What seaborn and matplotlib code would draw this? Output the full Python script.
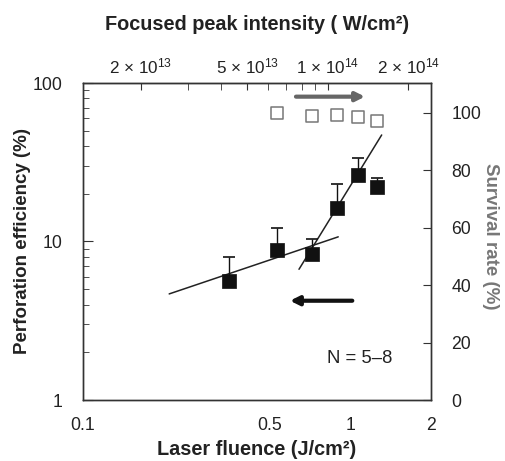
import numpy as np
import pandas as pd
import matplotlib
matplotlib.use("Agg")
import matplotlib.pyplot as plt
import seaborn as sns
from matplotlib.ticker import FixedLocator, FixedFormatter, NullFormatter

# ---- data ----
fluence = [0.351, 0.530, 0.716, 0.887, 1.064, 1.253]          # J/cm^2
perforation = [5.6, 8.8, 8.3, 16.3, 26.3, 22.2]               # %
perf_err_up = [2.4, 3.3, 2.1, 6.6, 7.5, 3.1]                  # % (upper error only)
surv_fluence = [0.530, 0.716, 0.887, 1.064, 1.253]
survival = [100.0, 98.8, 99.2, 98.6, 97.0]                    # %
fit1_x = [0.21, 0.90]
fit1_y = [4.67, 10.7]
fit2_x = [0.642, 1.308]
fit2_y = [6.68, 47.0]
intensity_per_fluence = 1.217e14                              # (W/cm^2)/(J/cm^2)
top_major = [2e13, 5e13, 1e14, 2e14]
top_labels = ["2 \u00d7 10$^{13}$", "5 \u00d7 10$^{13}$", "1 \u00d7 10$^{14}$", "2 \u00d7 10$^{14}$"]
top_minor = [3e13, 4e13, 6e13, 7e13, 8e13, 9e13]
bottom_major = [0.1, 0.5, 1, 2]
bottom_labels = ["0.1", "0.5", "1", "2"]
right_ticks = [0, 20, 40, 60, 80, 100]

sns.set_style("white")
plt.rcParams["font.family"] = ["Liberation Sans", "DejaVu Sans"]
plt.rcParams["mathtext.fontset"] = "custom"
plt.rcParams["mathtext.rm"] = "Liberation Sans"
plt.rcParams["mathtext.it"] = "Liberation Sans"
plt.rcParams["mathtext.bf"] = "Liberation Sans:bold"

TXT = "#222222"
GREY = "#777777"
W, H = 505, 461

fig = plt.figure(figsize=(5.05, 4.61), dpi=100)
ax = fig.add_axes([83 / W, 1 - 400 / H, 348 / W, 317 / H])

ax.set_xscale("log")
ax.set_yscale("log")
ax.set_xlim(0.1, 2)
ax.set_ylim(1, 100)

perf_df = pd.DataFrame({"fluence": fluence, "perf": perforation})
fit1 = pd.DataFrame({"x": fit1_x, "y": fit1_y})
fit2 = pd.DataFrame({"x": fit2_x, "y": fit2_y})

sns.lineplot(data=fit1, x="x", y="y", ax=ax, color="#222222", lw=1.1, zorder=2)
sns.lineplot(data=fit2, x="x", y="y", ax=ax, color="#222222", lw=1.1, zorder=2)

ax.errorbar(fluence, perforation, yerr=[np.zeros(len(perf_err_up)), perf_err_up],
            fmt="none", ecolor="#111111", elinewidth=1.0, capsize=4.5, capthick=1.2, zorder=3)
sns.scatterplot(data=perf_df, x="fluence", y="perf", ax=ax, marker="s", s=95,
                color="#111111", edgecolor="#111111", linewidth=0.5, zorder=4)

# arrows
ax.annotate("", xy=(1.133, 82), xytext=(0.6255, 82),
            arrowprops=dict(arrowstyle="-|>", lw=3.0, color="#666666", mutation_scale=13,
                            shrinkA=0, shrinkB=0))
ax.annotate("", xy=(0.594, 4.23), xytext=(1.0156, 4.23),
            arrowprops=dict(arrowstyle="-|>", lw=3.0, color="#111111", mutation_scale=13,
                            shrinkA=0, shrinkB=0))

ax.text(1.085, 1.84, "N = 5\u20138", ha="center", va="center", fontsize=13.3, color=TXT)

# bottom/left ticks
ax.xaxis.set_major_locator(FixedLocator(bottom_major))
ax.xaxis.set_major_formatter(FixedFormatter(bottom_labels))
ax.xaxis.set_minor_locator(FixedLocator([0.2, 0.3, 0.4, 0.6, 0.7, 0.8, 0.9]))
ax.xaxis.set_minor_formatter(NullFormatter())
ax.yaxis.set_major_locator(FixedLocator([1, 10, 100]))
ax.yaxis.set_major_formatter(FixedFormatter(["1", "10", "100"]))
ax.yaxis.set_minor_locator(FixedLocator([2, 3, 4, 5, 6, 7, 8, 9, 20, 30, 40, 50, 60, 70, 80, 90]))
ax.yaxis.set_minor_formatter(NullFormatter())
ax.tick_params(axis="both", which="both", direction="in", colors="#333333",
               labelcolor=TXT, labelsize=12.7)
ax.tick_params(axis="x", which="major", length=6, pad=12)
ax.tick_params(axis="x", which="minor", length=5)
ax.tick_params(axis="y", which="major", length=7, pad=14.5)
ax.tick_params(axis="y", which="minor", length=4)
ax.set_ylabel("Perforation efficiency (%)", fontsize=13.5, fontweight="bold", color=TXT)
ax.yaxis.set_label_coords((22.5 - 83) / 348, 0.5)
ax.yaxis.label.set_va("center")
ax.set_xlabel("Laser fluence (J/cm\u00b2)", fontsize=14.3, fontweight="bold", color=TXT)
ax.xaxis.set_label_coords(0.5, -(455 - 400) / 317)
ax.xaxis.label.set_va("baseline")
for s in ax.spines.values():
    s.set_color("#333333")
    s.set_linewidth(1.0)

# top axis (intensity)
top = ax.secondary_xaxis("top", functions=(lambda f: f * intensity_per_fluence,
                                           lambda i: i / intensity_per_fluence))
top.xaxis.set_major_locator(FixedLocator(top_major))
top.xaxis.set_major_formatter(FixedFormatter(top_labels))
top.xaxis.set_minor_locator(FixedLocator(top_minor))
top.xaxis.set_minor_formatter(NullFormatter())
top.tick_params(axis="x", which="both", direction="in", colors="#333333",
                labelcolor=TXT, labelsize=12.3, length=5, pad=5)
top.spines["top"].set_color("#333333")
fig.text(257 / W, 1 - 30 / H, "Focused peak intensity ( W/cm\u00b2)", ha="center",
         va="baseline", fontsize=14.3, fontweight="bold", color=TXT)

# right axis (survival)
ax2 = ax.twinx()
ax2.set_ylim(0, 110.3)
surv_df = pd.DataFrame({"fluence": surv_fluence, "surv": survival})
sns.scatterplot(data=surv_df, x="fluence", y="surv", ax=ax2, marker="s", s=70,
                facecolor="white", edgecolor=GREY, linewidth=1.1, zorder=4)
ax2.set_yticks(right_ticks)
ax2.tick_params(axis="y", direction="in", length=6, pad=14.5, colors="#333333",
                labelcolor=TXT, labelsize=12.7)
ax2.set_ylabel("Survival rate (%)", fontsize=13.5, fontweight="bold", color=GREY,
               rotation=270)
ax2.yaxis.set_label_coords((490 - 83) / 348, (400 - 236.5) / 317)
ax2.yaxis.label.set_va("center")
ax2.yaxis.label.set_ha("center")
ax2.yaxis.label.set_rotation_mode("anchor")
for s in ax2.spines.values():
    s.set_color("#333333")
    s.set_linewidth(1.0)
ax2.set_xlabel("")

fig.savefig("out.png", dpi=100)
